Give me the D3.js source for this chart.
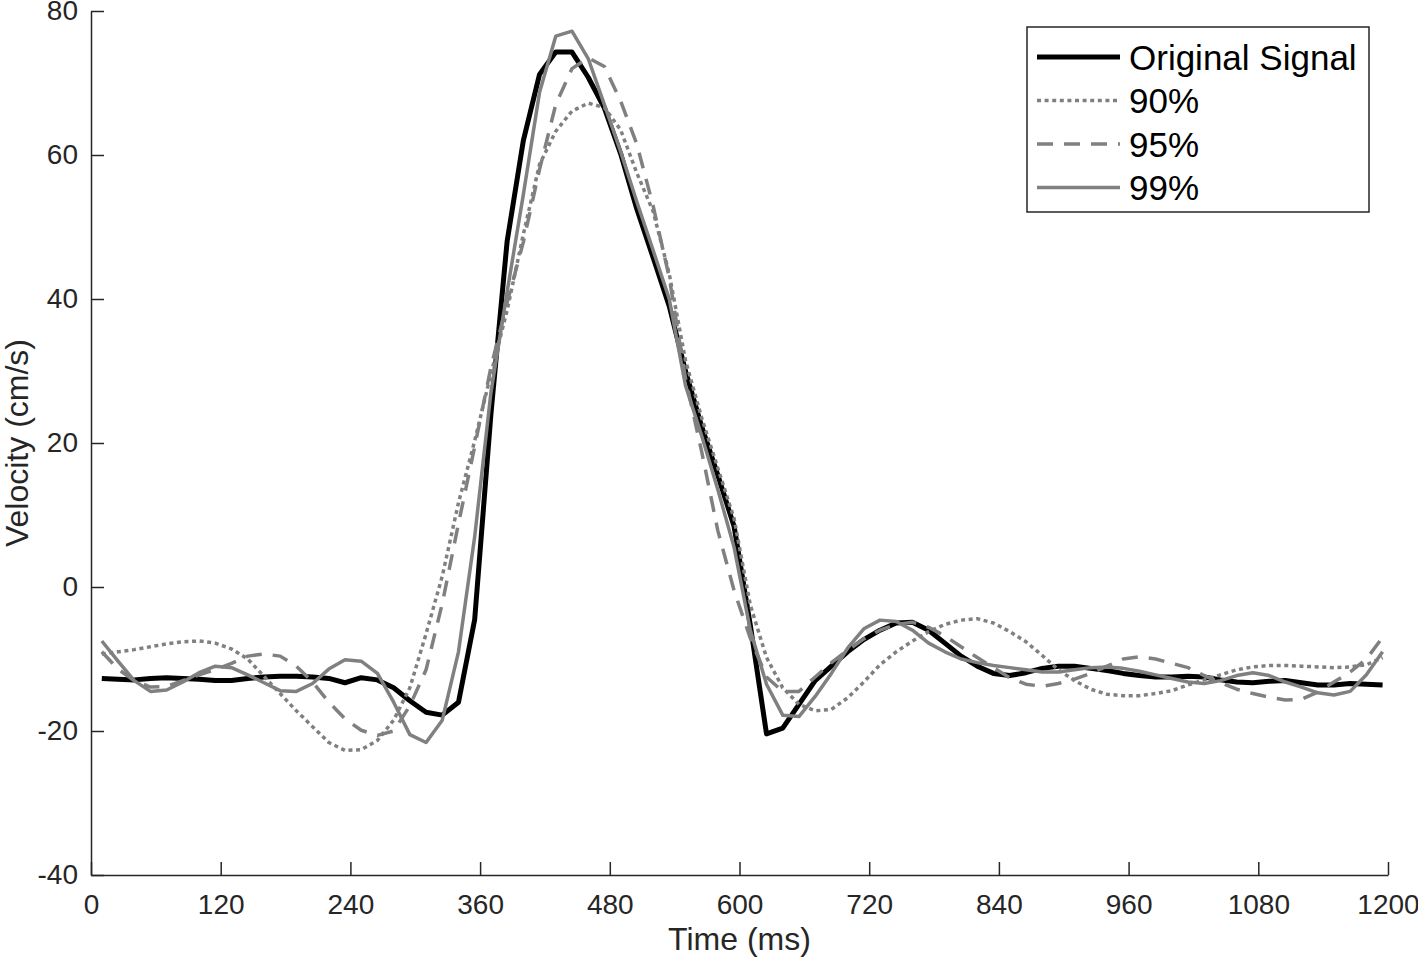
<!DOCTYPE html>
<html>
<head>
<meta charset="utf-8">
<script src="https://cdn.jsdelivr.net/npm/d3@7"></script>
<style>
  body { margin: 0; background: #fff; }
  svg { display: block; font-family: "Liberation Sans", Arial, sans-serif; }
</style>
</head>
<body>
<svg id="chart"></svg>
<script>
// sample times (ms)
var timeMs = [
  10, 25, 40, 55, 70, 85, 100, 115, 130, 145,
  160, 175, 190, 205, 220, 235, 250, 265, 280, 295,
  310, 325, 340, 355, 370, 385, 400, 415, 430, 445,
  460, 475, 490, 505, 520, 535, 550, 565, 580, 595,
  610, 625, 640, 655, 670, 685, 700, 715, 730, 745,
  760, 775, 790, 805, 820, 835, 850, 865, 880, 895,
  910, 925, 940, 955, 970, 985, 1000, 1015, 1030, 1045,
  1060, 1075, 1090, 1105, 1120, 1135, 1150, 1165, 1180, 1195
];

// velocity (cm/s)
var originalSignal = [
  -12.7, -12.8, -12.9, -12.7, -12.6, -12.7, -12.8, -13.0, -13.0, -12.7,
  -12.5, -12.4, -12.4, -12.5, -12.7, -13.3, -12.6, -12.9, -14.0, -15.8,
  -17.4, -17.8, -16.0, -4.5, 24.0, 48.0, 62.0, 71.2, 74.3, 74.3,
  70.8, 66.5, 60.2, 52.5, 45.8, 39.0, 30.0, 22.3, 15.5, 8.4,
  -5.3, -20.4, -19.6, -16.3, -13.0, -11.0, -9.0, -7.3, -6.0, -5.0,
  -4.9, -6.0, -7.8, -9.6, -11.0, -12.0, -12.3, -11.9, -11.3, -11.0,
  -11.0, -11.3, -11.6, -12.0, -12.3, -12.5, -12.5, -12.4, -12.5, -12.9,
  -13.2, -13.3, -13.1, -13.0, -13.3, -13.6, -13.6, -13.4, -13.5, -13.6
];

var filtered90 = [
  -9.3, -9.0, -8.7, -8.3, -7.9, -7.6, -7.5, -7.8, -8.6, -10.0,
  -12.4, -14.8, -17.2, -19.4, -21.6, -22.7, -22.6, -21.3, -18.5, -14.0,
  -6.5, 1.5, 11.7, 20.3, 29.6, 38.4, 49.0, 58.7, 63.3, 66.1,
  67.2, 66.6, 63.5, 57.5, 52.2, 43.5, 31.5, 23.5, 16.5, 9.5,
  -2.5, -9.8, -14.0, -16.3, -17.2, -17.0, -15.4, -13.2, -10.8, -9.0,
  -7.5, -6.2, -5.2, -4.6, -4.4, -5.0, -6.2, -7.6, -9.5, -11.5,
  -13.0, -14.2, -14.9, -15.1, -15.1, -14.8, -14.4, -13.6, -12.9, -12.2,
  -11.5, -11.1, -10.9, -10.9, -11.0, -11.1, -11.2, -11.1, -10.8, -9.8
];

var filtered95 = [
  -9.0, -11.4, -13.0, -13.9, -13.8, -13.0, -12.2, -11.5, -10.6, -9.6,
  -9.3, -9.6, -11.0, -13.2, -16.0, -18.3, -19.9, -20.6, -20.0, -16.5,
  -11.5, -2.3, 8.8, 19.5, 30.5, 39.5, 47.9, 58.0, 67.0, 72.0,
  73.5, 72.3, 67.5, 61.5, 53.0, 43.0, 29.0, 18.8, 7.8, -0.5,
  -7.1, -12.5, -14.5, -14.5, -12.5, -10.5, -8.8, -7.2, -6.0, -5.2,
  -4.9, -5.6, -6.8, -8.3, -9.8, -11.2, -12.6, -13.5, -13.8, -13.4,
  -12.8, -12.0, -11.0, -10.0, -9.7, -10.0, -10.6, -11.2, -12.3, -13.3,
  -14.2, -14.8, -15.3, -15.7, -15.6, -14.6, -13.2, -11.8, -10.0, -7.0
];

var filtered99 = [
  -7.5, -10.3, -13.0, -14.5, -14.3, -13.2, -11.9, -11.0, -11.2, -12.2,
  -13.3, -14.4, -14.5, -13.4, -11.4, -10.1, -10.3, -12.0, -16.0, -20.5,
  -21.6, -18.5, -9.0, 7.0, 27.0, 41.0, 54.5, 68.7, 76.5, 77.2,
  73.4, 67.0, 60.5, 53.5, 46.8, 40.0, 28.0, 21.0, 13.5, 5.5,
  -6.0, -13.5, -17.8, -18.0, -15.2, -12.0, -8.5, -5.8, -4.6, -4.8,
  -6.0, -7.8, -9.0, -10.0, -10.5, -10.9, -11.2, -11.5, -11.8, -11.8,
  -11.5, -11.2, -11.1, -11.3, -11.7, -12.2, -12.7, -13.2, -13.4, -13.0,
  -12.3, -11.9, -12.3, -13.2, -13.9, -14.7, -15.0, -14.5, -12.2, -9.0
];

var seriesNames = ['Original Signal', '90%', '95%', '99%'];
var xTicks = [0, 120, 240, 360, 480, 600, 720, 840, 960, 1080, 1200];
var yTicks = [-40, -20, 0, 20, 40, 60, 80];

var styles = [
  { color: '#000000', width: 5, dash: null },
  { color: '#808080', width: 3.5, dash: '4,3.6' },
  { color: '#808080', width: 3.5, dash: '16,11' },
  { color: '#808080', width: 3.5, dash: null }
];

var series = [originalSignal, filtered90, filtered95, filtered99];

var W = 1418, H = 960,
    margin = { top: 11, right: 30, bottom: 85, left: 91 },
    width = W - margin.left - margin.right,
    height = H - margin.top - margin.bottom;

var svg = d3.select('#chart').attr('width', W).attr('height', H);
var g = svg.append('g').attr('transform', 'translate(' + margin.left + ',' + margin.top + ')');

var xScale = d3.scaleLinear().domain([0, 1200]).range([0, width]);
var yScale = d3.scaleLinear().domain([-40, 80]).range([height, 0]);

var axisColor = '#262626';
var plain = function (d) { return String(d); };

// axes (ticks point inward like matlab)
var xAxis = g.append('g')
    .attr('transform', 'translate(0,' + height + ')')
    .call(d3.axisBottom(xScale).tickValues(xTicks).tickFormat(plain)
      .tickSizeInner(-13).tickSizeOuter(0).tickPadding(19));

var yAxis = g.append('g')
    .call(d3.axisLeft(yScale).tickValues(yTicks).tickFormat(plain)
      .tickSizeInner(-13).tickSizeOuter(0).tickPadding(13));

[xAxis, yAxis].forEach(function (a) {
  a.select('.domain').attr('stroke', axisColor).attr('stroke-width', 1.5);
  a.selectAll('.tick line').attr('stroke', axisColor).attr('stroke-width', 1.5);
  a.selectAll('.tick text')
    .attr('fill', axisColor)
    .style('font-size', '28px')
    .style('font-family', '"Liberation Sans", Arial, sans-serif');
});

// lines
var line = d3.line()
    .x(function (d, i) { return xScale(timeMs[i]); })
    .y(function (d) { return yScale(d); });

g.selectAll('.serie')
    .data(series)
    .enter().append('path')
    .attr('class', 'serie')
    .attr('fill', 'none')
    .attr('stroke', function (d, i) { return styles[i].color; })
    .attr('stroke-width', function (d, i) { return styles[i].width; })
    .attr('stroke-dasharray', function (d, i) { return styles[i].dash; })
    .attr('stroke-linejoin', 'round')
    .attr('d', line);

// axis labels
svg.append('text')
    .attr('x', margin.left + width / 2)
    .attr('y', 950)
    .attr('text-anchor', 'middle')
    .attr('fill', axisColor)
    .style('font-size', '32px')
    .text('Time (ms)');

svg.append('text')
    .attr('transform', 'translate(28,' + (margin.top + height / 2) + ') rotate(-90)')
    .attr('text-anchor', 'middle')
    .attr('fill', axisColor)
    .style('font-size', '32px')
    .text('Velocity (cm/s)');

// legend
var legend = svg.append('g').attr('transform', 'translate(1027,27)');

legend.append('rect')
    .attr('width', 342)
    .attr('height', 185)
    .attr('fill', '#fff')
    .attr('stroke', axisColor)
    .attr('stroke-width', 1.5);

var item = legend.selectAll('.item')
    .data(seriesNames)
    .enter().append('g')
    .attr('class', 'item')
    .attr('transform', function (d, i) { return 'translate(0,' + (30 + i * 43.5) + ')'; });

item.append('line')
    .attr('x1', 10).attr('x2', 93)
    .attr('stroke', function (d, i) { return styles[i].color; })
    .attr('stroke-width', function (d, i) { return styles[i].width; })
    .attr('stroke-dasharray', function (d, i) { return styles[i].dash; });

item.append('text')
    .attr('x', 102)
    .attr('dy', '0.36em')
    .attr('fill', '#000')
    .style('font-size', '35px')
    .text(function (d) { return d; });
</script>
</body>
</html>
